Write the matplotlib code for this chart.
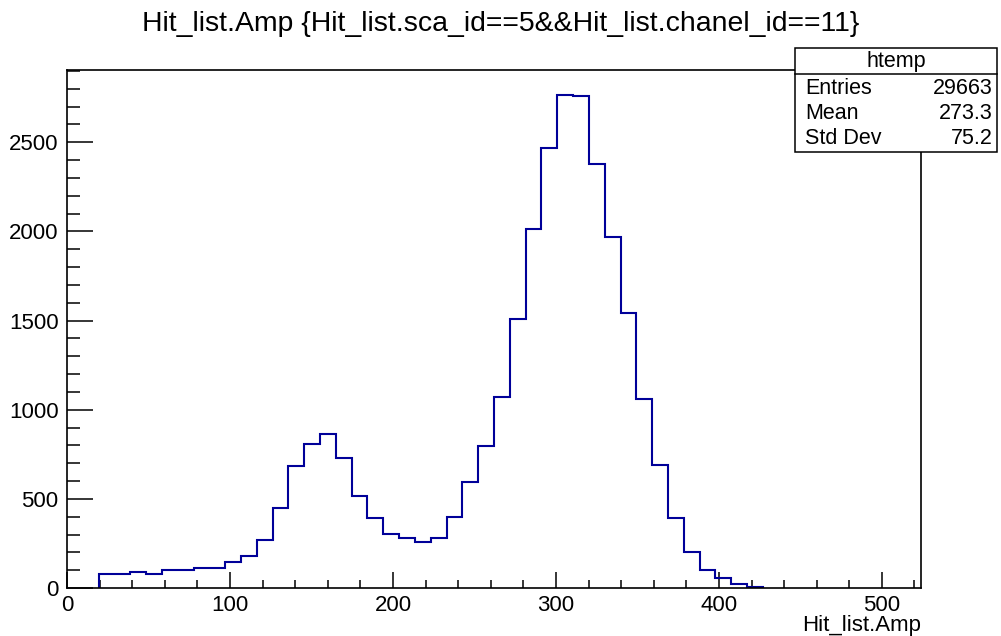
import numpy as np
import matplotlib
matplotlib.use('Agg')
import matplotlib.pyplot as plt
from matplotlib.patches import Rectangle
from matplotlib.ticker import MultipleLocator

plt.rcParams['font.family'] = ['Liberation Sans', 'DejaVu Sans']

# htemp: Hit_list.Amp for sca_id==5 && chanel_id==11
x_min, x_max, n_bins = 0.0, 524.0, 54
counts = [0, 0,
          78, 78, 91, 80, 100, 100, 111, 111, 146, 180,
          270, 448, 682, 808, 862, 727, 514, 393, 302, 282,
          258, 282, 397, 595, 794, 1074, 1507, 2011, 2466, 2767,
          2760, 2378, 1966, 1540, 1058, 691, 391, 200, 99, 58,
          24, 8,
          0, 0, 0, 0, 0, 0, 0, 0, 0, 0]

title = 'Hit_list.Amp {Hit_list.sca_id==5&&Hit_list.chanel_id==11}'
x_title = 'Hit_list.Amp'
stats_name = 'htemp'
stats_labels = ['Entries', 'Mean', 'Std Dev']
stats_values = ['29663', '273.3', '75.2']

W, H = 1001, 636


def fx(px):
    return px / W


def fy(py):
    return 1 - py / H


counts = np.array(counts, dtype=float)
edges = np.linspace(x_min, x_max, n_bins + 1)
nz = np.nonzero(counts)[0]
i0, i1 = nz[0], nz[-1] + 1

fig = plt.figure(figsize=(W / 100, H / 100), dpi=100)
ax = fig.add_axes([fx(67), fy(588), (921 - 67) / W, (588 - 70) / H])

ax.stairs(counts[i0:i1], edges[i0:i1 + 1], color='#000099', lw=1.5,
          baseline=0, zorder=2)

ax.set_xlim(x_min, x_max)
ax.set_ylim(0, 1.05 * counts.max())

ax.xaxis.set_major_locator(MultipleLocator(100))
ax.xaxis.set_minor_locator(MultipleLocator(20))
ax.yaxis.set_major_locator(MultipleLocator(500))
ax.yaxis.set_minor_locator(MultipleLocator(100))

ax.tick_params(which='both', direction='in', top=False, right=False,
               width=1.1, color='black', labelsize=16)
ax.tick_params(axis='x', which='major', length=11.5, pad=5)
ax.tick_params(axis='x', which='minor', length=5.8)
ax.tick_params(axis='y', which='major', length=18.7, pad=6)
ax.tick_params(axis='y', which='minor', length=9.4)

for sp in ax.spines.values():
    sp.set_linewidth(1.2)
    sp.set_zorder(3)

fig.text(0.5, fy(24), title, ha='center', va='center', fontsize=20.4)
fig.text(fx(921), fy(625), x_title, ha='right', va='center', fontsize=16)

# statistics box
bx0, bx1, by0, by1, by_sep = 795, 997, 48, 152, 73.5
fig.add_artist(Rectangle((fx(bx0), fy(by1)), (bx1 - bx0) / W, (by1 - by0) / H,
                         transform=fig.transFigure, facecolor='white',
                         edgecolor='black', lw=1.1, zorder=5))
fig.add_artist(plt.Line2D([fx(bx0), fx(bx1)], [fy(by_sep), fy(by_sep)],
                          transform=fig.transFigure, color='black', lw=1.1,
                          zorder=6))
fig.text(fx((bx0 + bx1) / 2), fy(61), stats_name, ha='center', va='center',
         fontsize=15.5, zorder=7)
for i, (lab, val) in enumerate(zip(stats_labels, stats_values)):
    yy = fy(88 + i * 25.5)
    fig.text(fx(805), yy, lab, ha='left', va='center', fontsize=15.5, zorder=7)
    fig.text(fx(993), yy, val, ha='right', va='center', fontsize=15.5, zorder=7)

fig.savefig('out.png', dpi=100)
